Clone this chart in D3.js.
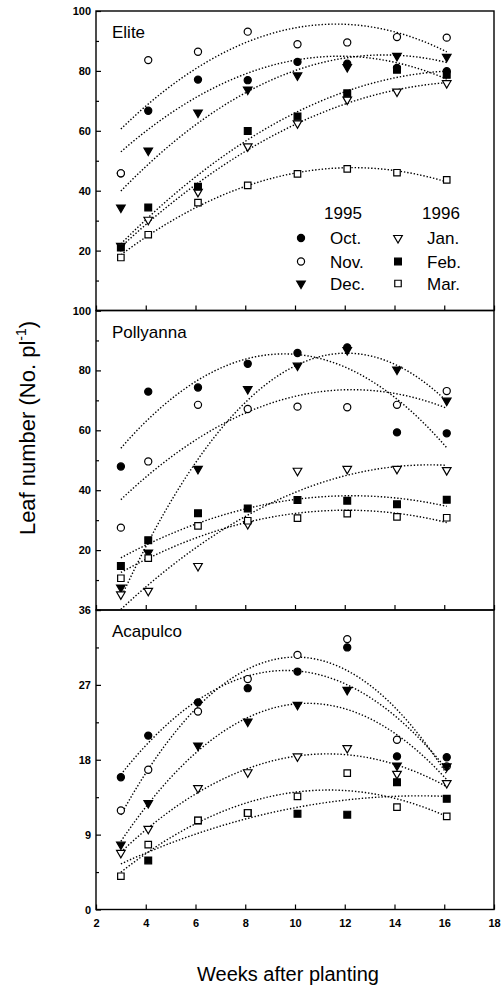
<!DOCTYPE html>
<html>
<head>
<meta charset="utf-8">
<script src="https://cdn.jsdelivr.net/npm/d3@7"></script>
<style>
body { margin: 0; background: #fff; }
svg { display: block; font-family: Arial, "Liberation Sans", sans-serif; }
</style>
</head>
<body>
<script>
// sampling weeks after planting
const weeks = [3, 4.1, 6.1, 8.1, 10.1, 12.1, 14.1, 16.1]
const months = ['Oct.', 'Nov.', 'Dec.', 'Jan.', 'Feb.', 'Mar.']
const cultivars = ['Elite', 'Pollyanna', 'Acapulco']
const xTicks = [2, 4, 6, 8, 10, 12, 14, 16, 18]

// leaf number per planting month (rows: Oct..Mar), null = not visible
const eliteLeaves = [
  [45.8, 66.7, 77.1, 76.9, 83.0, 82.4, 81.0, 79.9],
  [45.8, 83.6, 86.4, 93.1, 88.9, 89.5, 91.3, 91.1],
  [34.4, 53.4, 66.1, 73.8, 78.5, 81.3, 85.0, 84.7],
  [21.6, 30.3, 39.6, 54.8, 62.5, 70.4, 73.1, 75.9],
  [21.0, 34.4, 41.3, 59.9, 64.8, 72.5, 80.4, 78.7],
  [17.7, 25.3, 36.0, 41.8, 45.6, 47.3, 46.0, 43.6]
]
const pollyannaLeaves = [
  [47.9, 72.9, 74.3, 82.2, 85.8, 87.7, 59.3, 59.0],
  [27.5, 49.6, 68.5, 67.1, 67.9, 67.7, 68.5, 73.1],
  [7.5, 19.2, 47.1, 73.8, 81.6, 86.8, 80.3, 69.9],
  [5.2, 6.4, 14.7, 28.7, 46.5, 47.1, 47.1, 46.7],
  [14.7, 23.3, 32.3, 33.9, 36.7, 36.5, 35.3, 36.8],
  [10.6, 17.3, 28.1, 29.8, 30.7, 32.2, 31.1, 30.8]
]
const acapulcoLeaves = [
  [15.9, 20.9, 24.9, 26.6, 28.6, 31.5, 18.4, 18.3],
  [11.9, 16.8, 23.8, 27.7, 30.6, 32.5, 20.4, 17.2],
  [7.8, 12.8, 19.7, 22.6, 24.6, 26.4, 17.3, 17.2],
  [6.8, 9.7, 14.6, 16.5, 18.4, 19.4, 16.3, 15.2],
  [null, 5.9, 10.7, 11.6, 11.5, 11.4, 15.3, 13.3],
  [4.0, 7.8, 10.7, 11.6, 13.6, 16.4, 12.3, 11.2]
]
const yMax = [100, 100, 36]
const yTicksMajor = [[0, 20, 40, 60, 80, 100], [0, 20, 40, 60, 80, 100], [0, 9, 18, 27, 36]]
const yTicksMinor = [[10, 30, 50, 70, 90], [10, 30, 50, 70, 90], [4.5, 13.5, 22.5, 31.5]]

const allLeaves = [eliteLeaves, pollyannaLeaves, acapulcoLeaves]

const W = 502, H = 989
const margin = {top: 11, left: 96, right: 8}
const panelH = 299.5

// symbol per month: shape, filled?, rotation
const symbolStyle = [
  {type: d3.symbolCircle, size: 40, fill: true, rot: 0},
  {type: d3.symbolCircle, size: 40, fill: false, rot: 0},
  {type: d3.symbolTriangle, size: 32, fill: true, rot: 180},
  {type: d3.symbolTriangle, size: 32, fill: false, rot: 180},
  {type: d3.symbolSquare, size: 46, fill: true, rot: 0},
  {type: d3.symbolSquare, size: 42, fill: false, rot: 0}
]

const svg = d3.select('body').append('svg')
    .attr('width', W)
    .attr('height', H)

const xScale = d3.scaleLinear()
    .domain([2, 18])
    .range([margin.left, W - margin.right])

// least squares quadratic y = a + b x + c x^2
function quadFit(xs, ys) {
  let n = 0, s1 = 0, s2 = 0, s3 = 0, s4 = 0, t0 = 0, t1 = 0, t2 = 0
  xs.forEach((x, i) => {
    const y = ys[i]
    n++; s1 += x; s2 += x * x; s3 += x * x * x; s4 += x * x * x * x
    t0 += y; t1 += x * y; t2 += x * x * y
  })
  const M = [[n, s1, s2], [s1, s2, s3], [s2, s3, s4]]
  const det = m => m[0][0] * (m[1][1] * m[2][2] - m[1][2] * m[2][1])
    - m[0][1] * (m[1][0] * m[2][2] - m[1][2] * m[2][0])
    + m[0][2] * (m[1][0] * m[2][1] - m[1][1] * m[2][0])
  const D = det(M)
  const rhs = [t0, t1, t2]
  const coef = [0, 1, 2].map(k => det(M.map((row, r) => row.map((v, c) => c === k ? rhs[r] : v))) / D)
  return x => coef[0] + coef[1] * x + coef[2] * x * x
}

cultivars.forEach((name, p) => {
  const top = margin.top + p * panelH
  const bottom = top + panelH
  const yScale = d3.scaleLinear()
      .domain([0, yMax[p]])
      .range([bottom, top])

  const g = svg.append('g')

  g.append('clipPath').attr('id', 'clip' + p)
    .append('rect')
      .attr('x', margin.left).attr('y', top)
      .attr('width', W - margin.right - margin.left).attr('height', panelH)

  // y axis, inward ticks
  const yAx = g.append('g')
      .attr('transform', 'translate(' + margin.left + ',0)')
      .call(d3.axisLeft(yScale)
        .tickValues(yTicksMajor[p])
        .tickSize(-5)
        .tickPadding(5)
        .tickFormat(d => (d === 0 && p < 2) ? '' : d))
  yAx.select('.domain').remove()
  yAx.selectAll('text').style('font-size', '11px').style('font-weight', 'bold').attr('fill', '#000')
  yAx.selectAll('line').attr('stroke', '#000').attr('stroke-width', 1.2)

  const yMin = g.append('g')
      .attr('transform', 'translate(' + margin.left + ',0)')
      .call(d3.axisLeft(yScale).tickValues(yTicksMinor[p]).tickSize(-3).tickFormat(''))
  yMin.select('.domain').remove()
  yMin.selectAll('line').attr('stroke', '#000').attr('stroke-width', 1.2)

  // x axis at bottom of each panel
  const xAx = g.append('g')
      .attr('transform', 'translate(0,' + bottom + ')')
      .call(d3.axisBottom(xScale)
        .tickValues(xTicks)
        .tickSize(-5)
        .tickPadding(10)
        .tickFormat(d => p === 2 ? d : ''))
  xAx.select('.domain').remove()
  xAx.selectAll('text').style('font-size', '11px').style('font-weight', 'bold').attr('fill', '#000')
  xAx.selectAll('line').attr('stroke', '#000').attr('stroke-width', 1.2)

  // frame
  g.append('rect')
      .attr('x', margin.left).attr('y', top)
      .attr('width', W - margin.right - margin.left).attr('height', panelH)
      .attr('fill', 'none').attr('stroke', '#000').attr('stroke-width', 1.4)

  g.append('text')
      .attr('x', margin.left + 16)
      .attr('y', top + 27)
      .style('font-size', '17px')
      .text(name)

  const line = d3.line()
      .x(d => xScale(d[0]))
      .y(d => yScale(d[1]))

  // fitted curves
  allLeaves[p].forEach((vals, m) => {
    const pts = weeks.map((w, i) => [w, vals[i]]).filter(d => d[1] != null)
    const f = quadFit(pts.map(d => d[0]), pts.map(d => d[1]))
    const x0 = d3.min(weeks), x1 = d3.max(weeks)
    const curve = d3.range(81).map(i => {
      const x = x0 + (x1 - x0) * i / 80
      return [x, f(x)]
    })
    g.append('path')
        .datum(curve)
        .attr('d', line)
        .attr('clip-path', 'url(#clip' + p + ')')
        .attr('fill', 'none')
        .attr('stroke', '#000')
        .attr('stroke-width', 1.4)
        .attr('stroke-dasharray', '1.4,1.9')
  })

  // points
  allLeaves[p].forEach((vals, m) => {
    const st = symbolStyle[m]
    const pts = weeks.map((w, i) => [w, vals[i]]).filter(d => d[1] != null)
    g.selectAll('.pt' + m).data(pts)
      .enter()
      .append('path')
        .attr('d', d3.symbol().type(st.type).size(st.size))
        .attr('transform', d => 'translate(' + xScale(d[0]) + ',' + yScale(d[1]) + ') rotate(' + st.rot + ')')
        .attr('fill', st.fill ? '#000' : '#fff')
        .attr('stroke', '#000')
        .attr('stroke-width', 1.2)
  })
})

// legend inside Elite panel
const legend = svg.append('g')
const legendCols = [{sym: 301, txt: 330, head: '1995', hx: 343}, {sym: 398, txt: 427, head: '1996', hx: 441}]
const legendRows = [238, 261.5, 283.5]
legendCols.forEach((c, ci) => {
  legend.append('text')
      .attr('x', c.hx).attr('y', 219)
      .attr('text-anchor', 'middle')
      .style('font-size', '17px')
      .text(c.head)
  legendRows.forEach((ry, ri) => {
    const m = ci * 3 + ri
    const st = symbolStyle[m]
    legend.append('path')
        .attr('d', d3.symbol().type(st.type).size(st.size))
        .attr('transform', 'translate(' + c.sym + ',' + ry + ') rotate(' + st.rot + ')')
        .attr('fill', st.fill ? '#000' : '#fff')
        .attr('stroke', '#000')
        .attr('stroke-width', 1.2)
    legend.append('text')
        .attr('x', c.txt).attr('y', ry + 6)
        .style('font-size', '17px')
        .text(months[m])
  })
})

// axis titles
const yTitle = svg.append('text')
    .attr('transform', 'translate(35,428)rotate(-90)')
    .attr('text-anchor', 'middle')
    .style('font-size', '22px')
yTitle.append('tspan').text('Leaf number (No. pl')
yTitle.append('tspan').attr('dy', -9).style('font-size', '14px').text('-1')
yTitle.append('tspan').attr('dy', 9).text(')')

svg.append('text')
    .attr('x', 288)
    .attr('y', 981)
    .attr('text-anchor', 'middle')
    .style('font-size', '20px')
    .text('Weeks after planting')
</script>
</body>
</html>
